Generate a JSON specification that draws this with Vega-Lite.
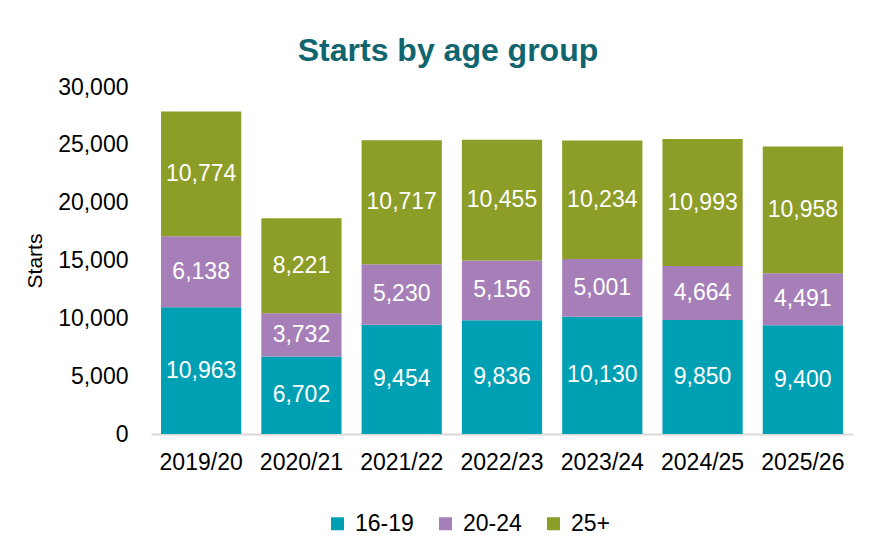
{
  "$schema": "https://vega.github.io/schema/vega-lite/v6.json",
  "width": 702,
  "height": 347,
  "autosize": {"type": "none"},
  "padding": {"left": 151, "top": 87, "right": 21, "bottom": 121},
  "background": "white",
  "title": {
    "text": "Starts by age group",
    "anchor": "middle",
    "frame": "group",
    "dx": -54,
    "offset": 8,
    "font": "Liberation Sans",
    "fontSize": 32,
    "fontWeight": "bold",
    "color": "#10656f"
  },
  "config": {
    "view": {"stroke": null},
    "font": "Liberation Sans"
  },
  "data": {
    "values": [
      {"year": "2019/20", "age": "16-19", "starts": 10963},
      {"year": "2019/20", "age": "20-24", "starts": 6138},
      {"year": "2019/20", "age": "25+", "starts": 10774},
      {"year": "2020/21", "age": "16-19", "starts": 6702},
      {"year": "2020/21", "age": "20-24", "starts": 3732},
      {"year": "2020/21", "age": "25+", "starts": 8221},
      {"year": "2021/22", "age": "16-19", "starts": 9454},
      {"year": "2021/22", "age": "20-24", "starts": 5230},
      {"year": "2021/22", "age": "25+", "starts": 10717},
      {"year": "2022/23", "age": "16-19", "starts": 9836},
      {"year": "2022/23", "age": "20-24", "starts": 5156},
      {"year": "2022/23", "age": "25+", "starts": 10455},
      {"year": "2023/24", "age": "16-19", "starts": 10130},
      {"year": "2023/24", "age": "20-24", "starts": 5001},
      {"year": "2023/24", "age": "25+", "starts": 10234},
      {"year": "2024/25", "age": "16-19", "starts": 9850},
      {"year": "2024/25", "age": "20-24", "starts": 4664},
      {"year": "2024/25", "age": "25+", "starts": 10993},
      {"year": "2025/26", "age": "16-19", "starts": 9400},
      {"year": "2025/26", "age": "20-24", "starts": 4491},
      {"year": "2025/26", "age": "25+", "starts": 10958}
    ]
  },
  "transform": [
    {"stack": "starts", "groupby": ["year"], "sort": [{"field": "age", "order": "ascending"}], "as": ["y0", "y1"]},
    {"calculate": "(datum.y0 + datum.y1) / 2", "as": "ymid"}
  ],
  "encoding": {
    "x": {
      "field": "year",
      "type": "nominal",
      "title": null,
      "scale": {"paddingInner": 0.2, "paddingOuter": 0.1},
      "axis": {
        "labelAngle": 0,
        "labelFontSize": 23,
        "labelColor": "#000000",
        "labelPadding": 17,
        "ticks": false,
        "domainColor": "#d9d9d9",
        "domainWidth": 2
      }
    }
  },
  "layer": [
    {
      "mark": {"type": "bar"},
      "encoding": {
        "y": {
          "field": "y0",
          "type": "quantitative",
          "scale": {"domain": [0, 30000]},
          "title": "Starts",
          "axis": {
            "values": [0, 5000, 10000, 15000, 20000, 25000, 30000],
            "format": ",.0f",
            "grid": false,
            "domain": false,
            "ticks": false,
            "labelFontSize": 23,
            "labelColor": "#000000",
            "labelPadding": 23,
            "titleFontSize": 21,
            "titleFontWeight": "normal",
            "titleColor": "#000000",
            "titlePadding": 12
          }
        },
        "y2": {"field": "y1"},
        "color": {
          "field": "age",
          "type": "nominal",
          "scale": {"domain": ["16-19", "20-24", "25+"], "range": ["#00a0b4", "#a67fb8", "#8c9d28"]},
          "legend": {
            "title": null,
            "orient": "none",
            "direction": "horizontal",
            "legendX": 175,
            "legendY": 425,
            "symbolType": "square",
            "symbolSize": 169,
            "symbolStrokeWidth": 0,
            "symbolOpacity": 1,
            "labelFontSize": 23,
            "labelColor": "#000000",
            "labelOffset": 6,
            "columnPadding": 20
          }
        }
      }
    },
    {
      "mark": {"type": "text", "color": "white", "fontSize": 23, "baseline": "middle", "align": "center"},
      "encoding": {
        "y": {"field": "ymid", "type": "quantitative"},
        "text": {"field": "starts", "type": "quantitative", "format": ","}
      }
    }
  ]
}
